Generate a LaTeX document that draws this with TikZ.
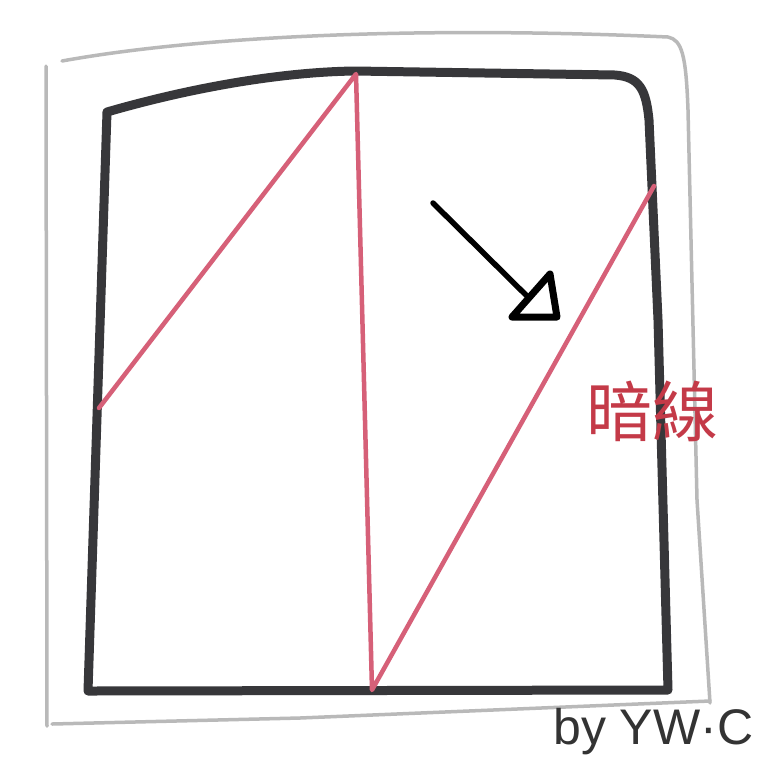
\documentclass[tikz,border=0pt]{standalone}
\usepackage{fontspec}
\newfontfamily\cjk{Noto Sans CJK TC}
\newfontfamily\sig{Liberation Sans}
\definecolor{framegray}{RGB}{185,185,185}
\definecolor{frameblack}{RGB}{55,55,58}
\definecolor{hidred}{RGB}{214,96,120}
\definecolor{textred}{RGB}{196,58,72}
\tikzset{
  outerframe/.style={draw=framegray,line width=3.5pt,line cap=round,line join=round},
  innerframe/.style={draw=frameblack,line width=9pt,line cap=round,line join=round},
  hidline/.style={draw=hidred,line width=4.5pt,line cap=round,line join=round},
  arrowline/.style={draw=black,line width=5.5pt,line cap=round,line join=round},
}
\begin{document}
\begin{tikzpicture}[x=1pt,y=-1pt]
\useasboundingbox[fill=white] (0,0) rectangle (762,756);
% outer gray frame
\draw[outerframe] (47,726) -- (46,66);
\draw[outerframe] (62,61) .. controls (200,36) and (420,26) .. (668,37)
  .. controls (682,40) and (686,55) .. (688,110) -- (697,500) -- (710,703);
\draw[outerframe] (52,724) -- (300,718) -- (710,701);
% inner black frame
\coordinate (tl) at (107,112);
\coordinate (tm) at (355,71);
\coordinate (bl) at (88,691);
\coordinate (br) at (668,690);
\draw[innerframe] (tl) .. controls (190,88) and (280,72) .. (tm) -- (615,75)
  .. controls (640,77) and (646,90) .. (649,120) -- (658,320) -- (br) -- (bl) -- cycle;
% hidden (red) lines
\coordinate (rl) at (99,408);
\coordinate (rt) at (356,74);
\coordinate (rb) at (372,690);
\coordinate (rr) at (654,186);
\draw[hidline] (rl) -- (rt) -- (rb) -- (rr);
% arrow
\coordinate (as) at (433,203);
\coordinate (ae) at (533,302);
\draw[arrowline] (as) -- (ae);
\draw[arrowline,line width=7pt,fill=white] (550,274) -- (557,317) -- (512,317) -- cycle;
% labels
\node[text=textred,font=\cjk\fontsize{66}{70}\selectfont,inner sep=0pt] (lbl) at (652,411) {暗線};
\node[text=black!80,font=\sig\fontsize{50}{54}\selectfont,inner sep=0pt,anchor=base west] (sig) at (553,744) {by YW·C};
\end{tikzpicture}
\end{document}
